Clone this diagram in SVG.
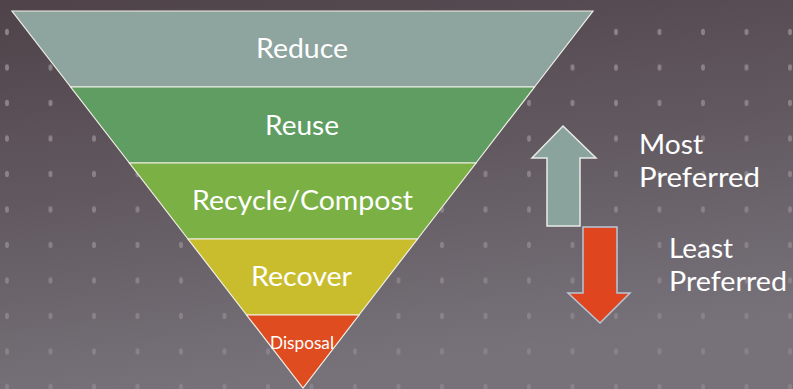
<svg xmlns="http://www.w3.org/2000/svg" width="793" height="389" viewBox="0 0 793 389">
<defs>
<linearGradient id="bg" x1="0" y1="0" x2="0.25" y2="1">
<stop offset="0" stop-color="#4f4249"/>
<stop offset="0.5" stop-color="#625960"/>
<stop offset="1" stop-color="#77727a"/>
</linearGradient>
<pattern id="dots" x="7" y="32" width="43.5" height="35.5" patternUnits="userSpaceOnUse">
<ellipse cx="0" cy="0" rx="2" ry="3.2" fill="#8a8288"/>
<ellipse cx="43.5" cy="0" rx="2" ry="3.2" fill="#8a8288"/>
<ellipse cx="0" cy="35.5" rx="2" ry="3.2" fill="#8a8288"/>
<ellipse cx="43.5" cy="35.5" rx="2" ry="3.2" fill="#8a8288"/>
</pattern>
<style>
.lbl{font-family:Lato,"Open Sans","Liberation Sans",sans-serif;fill:#ffffff;text-anchor:middle;font-size:27px}
.side{font-family:Lato,"Open Sans","Liberation Sans",sans-serif;fill:#ffffff;font-size:27px}
.band{stroke:#f2f0e6;stroke-width:1.2}
</style>
</defs>
<rect x="0" y="0" width="793" height="389" fill="url(#bg)"/>
<rect x="0" y="0" width="793" height="389" fill="url(#dots)"/>
<g id="reduce">
<polygon class="band" points="12,11 593,11 534.5,87 70.7,87" fill="#8ea59f"/>
<text class="lbl" x="302" y="58" textLength="92" lengthAdjust="spacingAndGlyphs">Reduce</text>
</g>
<g id="reuse">
<polygon class="band" points="70.7,87 534.5,87 476,163 129.4,163" fill="#5f9d62"/>
<text class="lbl" x="302" y="135" textLength="74" lengthAdjust="spacingAndGlyphs">Reuse</text>
</g>
<g id="recycle">
<polygon class="band" points="129.4,163 476,163 417.5,239 188,239" fill="#7bb044"/>
<text class="lbl" x="302.5" y="210" textLength="221" lengthAdjust="spacingAndGlyphs">Recycle/Compost</text>
</g>
<g id="recover">
<polygon class="band" points="188,239 417.5,239 359,315 246.6,315" fill="#c9bd2e"/>
<text class="lbl" x="301.5" y="286" textLength="101" lengthAdjust="spacingAndGlyphs">Recover</text>
</g>
<g id="disposal">
<polygon class="band" points="246.6,315 359,315 303,388" fill="#de4c1f"/>
<text class="lbl" x="302" y="349" style="font-size:17px" textLength="64" lengthAdjust="spacingAndGlyphs">Disposal</text>
</g>
<g id="connectors">
<g id="up-arrow">
<polygon points="563,126 596,158 580,158 580,226 547,226 547,158 532,158" fill="#8aa39c" stroke="#e8ece8" stroke-width="1.5"/>
</g>
<g id="down-arrow">
<polygon points="583,227 617,227 617,293 630,293 600,323 568,293 583,293" fill="#df4620" stroke="#b9c6d6" stroke-width="1.5"/>
</g>
</g>
<g id="most-preferred">
<text class="side" x="639" y="154" textLength="64" lengthAdjust="spacingAndGlyphs">Most</text>
<text class="side" x="639" y="187" textLength="121" lengthAdjust="spacingAndGlyphs">Preferred</text>
</g>
<g id="least-preferred">
<text class="side" x="669" y="258" textLength="64" lengthAdjust="spacingAndGlyphs">Least</text>
<text class="side" x="669" y="291" textLength="118" lengthAdjust="spacingAndGlyphs">Preferred</text>
</g>
</svg>
